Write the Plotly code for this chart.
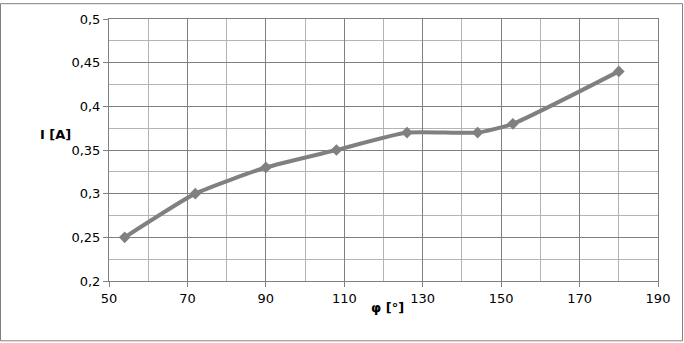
import plotly.graph_objects as go

phi = [54, 72, 90, 108, 126, 144, 153, 180]
current = [0.25, 0.30, 0.33, 0.35, 0.37, 0.37, 0.38, 0.44]

x_ticks = [50, 70, 90, 110, 130, 150, 170, 190]
y_ticks = [0.2, 0.25, 0.3, 0.35, 0.4, 0.45, 0.5]
y_tick_text = ["0,2", "0,25", "0,3", "0,35", "0,4", "0,45", "0,5"]

W, H = 684, 343
L, R, T, B = 109, 26, 16, 62
pw, ph = W - L - R, H - T - B

fig = go.Figure()
fig.add_trace(go.Scatter(
    x=phi, y=current, mode="lines+markers",
    line=dict(color="#808080", width=4, shape="spline", smoothing=0.5),
    marker=dict(symbol="diamond", size=9, color="#808080"),
    showlegend=False, hoverinfo="skip",
))

axis_common = dict(
    showline=True, linecolor="#808080", linewidth=1, mirror=True,
    showgrid=True, gridcolor="#808080", gridwidth=1,
    zeroline=False, ticks="outside", ticklen=5, tickcolor="#808080",
    tickfont=dict(family="DejaVu Sans", size=13, color="#000000"),
)

fig.update_xaxes(
    range=[50, 190], tickvals=x_ticks, ticktext=[str(v) for v in x_ticks],
    minor=dict(dtick=10, tick0=50, showgrid=True, gridcolor="#b3b3b3", ticks=""),
    **axis_common,
)
fig.update_yaxes(
    range=[0.2, 0.5], tickvals=y_ticks, ticktext=y_tick_text,
    minor=dict(dtick=0.025, tick0=0.2, showgrid=True, gridcolor="#b3b3b3", ticks=""),
    **axis_common,
)

fig.add_annotation(
    text="<b>I [A]</b>", xref="paper", yref="paper",
    x=(55 - L) / pw, y=(H - B - 133) / ph, showarrow=False,
    xanchor="center", yanchor="middle",
    font=dict(family="DejaVu Sans", size=13, color="#000000"),
)
fig.add_annotation(
    text="<b>φ [°]</b>", xref="paper", yref="paper",
    x=(387 - L) / pw, y=(H - B - 308) / ph, showarrow=False,
    xanchor="center", yanchor="middle",
    font=dict(family="DejaVu Sans", size=13, color="#000000"),
)

fig.add_shape(
    type="rect", xref="paper", yref="paper",
    x0=(0.5 - L) / pw, x1=(682.5 - L) / pw,
    y0=(H - B - 341.5) / ph, y1=(H - B - 0.5) / ph,
    line=dict(color="#808080", width=1), fillcolor="rgba(0,0,0,0)",
)

fig.update_layout(
    width=W, height=H, margin=dict(l=L, r=R, t=T, b=B),
    paper_bgcolor="#ffffff", plot_bgcolor="#ffffff",
    font=dict(family="DejaVu Sans", size=13, color="#000000"),
)

fig.write_html(
    "out.html",
    config={"displayModeBar": False},
    post_script="document.body.style.margin='0';document.body.style.padding='0';document.body.style.overflow='hidden';",
)
